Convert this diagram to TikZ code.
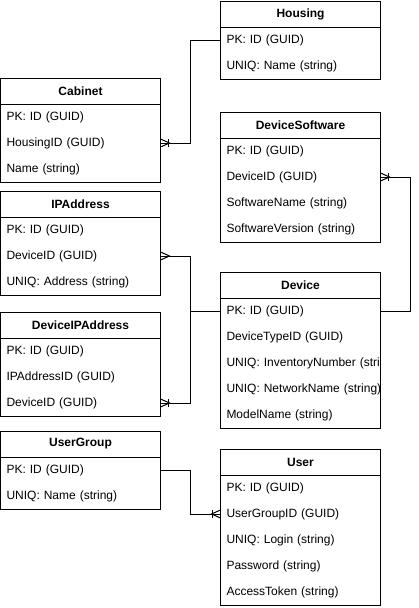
\documentclass[tikz,border=0pt]{standalone}
\usepackage{fontspec}
\setmainfont{Liberation Sans}
\usetikzlibrary{positioning,calc}

\newcommand{\erfont}{\fontsize{12pt}{14pt}\selectfont}
% crow's foot at an entity side, #2 = 1 if the line leaves to the right
\newcommand{\crowfoot}[2]{\draw ($(#1)+(0,-4)$) -- ($(#1)+(#2*9,0)$) -- ($(#1)+(0,4)$);}
\newcommand{\crowbar}[2]{\draw ($(#1)+(#2*8,-4)$) -- ++(0,8);}

\tikzset{
  erhead/.style={draw, anchor=north west, minimum width=160pt,
    minimum height=26pt, inner sep=0pt, outer sep=0pt, font=\erfont\bfseries},
  errow/.style={minimum height=26pt, text width=148pt, inner xsep=6pt,
    inner ysep=0pt, outer sep=0pt, align=left, font=\erfont},
}

\begin{document}
\begin{tikzpicture}[x=1pt, y=-1pt, line width=1pt]
  \useasboundingbox (0,0) rectangle (419,608);
  % Housing
  \node[erhead] (housing-0) at (220.5,1) {Housing};
  \foreach \f [count=\i, remember=\i as \j (initially 0)] in
    {PK: ID (GUID), UNIQ: Name (string)}
    \node[errow, below=0pt of housing-\j] (housing-\i) {\f};
  \draw (housing-0.north west) rectangle (housing-2.south east);
  % Cabinet
  \node[erhead] (cabinet-0) at (0.5,78) {Cabinet};
  \foreach \f [count=\i, remember=\i as \j (initially 0)] in
    {PK: ID (GUID), HousingID (GUID), Name (string)}
    \node[errow, below=0pt of cabinet-\j] (cabinet-\i) {\f};
  \draw (cabinet-0.north west) rectangle (cabinet-3.south east);
  % DeviceSoftware
  \node[erhead] (devsoft-0) at (220.5,112) {DeviceSoftware};
  \foreach \f [count=\i, remember=\i as \j (initially 0)] in
    {PK: ID (GUID), DeviceID (GUID), SoftwareName (string),
     SoftwareVersion (string)}
    \node[errow, below=0pt of devsoft-\j] (devsoft-\i) {\f};
  \draw (devsoft-0.north west) rectangle (devsoft-4.south east);
  % IPAddress
  \node[erhead] (ipaddr-0) at (0.5,191) {IPAddress};
  \foreach \f [count=\i, remember=\i as \j (initially 0)] in
    {PK: ID (GUID), DeviceID (GUID), UNIQ: Address (string)}
    \node[errow, below=0pt of ipaddr-\j] (ipaddr-\i) {\f};
  \draw (ipaddr-0.north west) rectangle (ipaddr-3.south east);
  % Device (long fields are cut at the border)
  \begin{scope}
    \clip (220.5,272) rectangle (380.5,430);
    \node[erhead] (device-0) at (220.5,272) {Device};
    \foreach \f [count=\i, remember=\i as \j (initially 0)] in
      {PK: ID (GUID), DeviceTypeID (GUID), \mbox{UNIQ: InventoryNumber (stri},
       \mbox{UNIQ: NetworkName (string)}, ModelName (string)}
      \node[errow, below=0pt of device-\j] (device-\i) {\f};
  \end{scope}
  \draw (device-0.north west) rectangle (device-5.south east);
  \draw (device-0.south west) -- (device-0.south east);
  % DeviceIPAddress
  \node[erhead] (devip-0) at (0.5,312) {DeviceIPAddress};
  \foreach \f [count=\i, remember=\i as \j (initially 0)] in
    {PK: ID (GUID), IPAddressID (GUID), DeviceID (GUID)}
    \node[errow, below=0pt of devip-\j] (devip-\i) {\f};
  \draw (devip-0.north west) rectangle (devip-3.south east);
  % UserGroup
  \node[erhead] (usergroup-0) at (0.5,431) {UserGroup};
  \foreach \f [count=\i, remember=\i as \j (initially 0)] in
    {PK: ID (GUID), UNIQ: Name (string)}
    \node[errow, below=0pt of usergroup-\j] (usergroup-\i) {\f};
  \draw (usergroup-0.north west) rectangle (usergroup-2.south east);
  % User
  \node[erhead] (user-0) at (220.5,449) {User};
  \foreach \f [count=\i, remember=\i as \j (initially 0)] in
    {PK: ID (GUID), UserGroupID (GUID), UNIQ: Login (string),
     Password (string), AccessToken (string)}
    \node[errow, below=0pt of user-\j] (user-\i) {\f};
  \draw (user-0.north west) rectangle (user-5.south east);

  % Housing to Cabinet
  \draw (housing-1.west) -- ++(-30,0) |- (cabinet-2.east);
  \crowfoot{cabinet-2.east}{1}
  \crowbar{cabinet-2.east}{1}
  % Device to DeviceSoftware
  \draw (device-1.east) -- ++(30,0) |- (devsoft-2.east);
  \crowfoot{devsoft-2.east}{1}
  \crowbar{devsoft-2.east}{1}
  % Device to IPAddress and DeviceIPAddress
  \draw (device-1.west) -- ++(-30,0) |- (ipaddr-2.east);
  \crowfoot{ipaddr-2.east}{1}
  \draw (device-1.west) -- ++(-30,0) |- (devip-3.east);
  \crowfoot{devip-3.east}{1}
  \crowbar{devip-3.east}{1}
  % UserGroup to User
  \draw (usergroup-1.east) -- ++(30,0) |- (user-2.west);
  \crowfoot{user-2.west}{-1}
  \crowbar{user-2.west}{-1}
\end{tikzpicture}
\end{document}
